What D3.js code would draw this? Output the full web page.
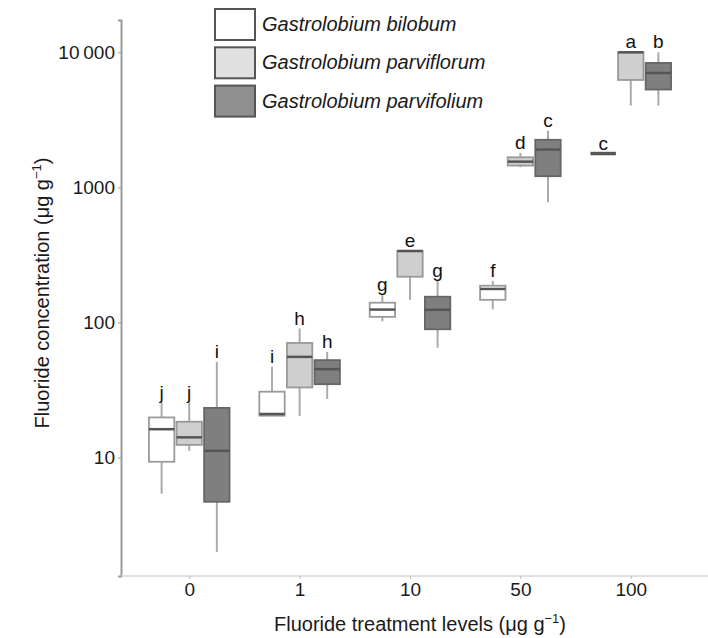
<html lang="en">
<head>
    <meta charset="UTF-8">
    <title>Fluoride concentration</title>
    <style>
        body { margin: 0; background: #fff; }
        text { font-family: "Liberation Sans", Arial, sans-serif; }
    </style>
</head>
<body>
    <script src="https://d3js.org/d3.v7.min.js"></script>
    <div id="my_dataviz"></div>
    <script>
        // Data
        var groups = ["0", "1", "10", "50", "100"]
        var species = ["Gastrolobium bilobum", "Gastrolobium parviflorum", "Gastrolobium parvifolium"]
        var yTicks = [10, 100, 1000, 10000]
        var yTickLabels = ["10", "100", "1000", "10\u2009000"]

        // one row per species, one value per treatment level
        var whiskerLow = [[5.4, 20.4, 102, 125, 1780], [11.2, 20.3, 147, 1410, 4030], [2.0, 27.1, 65, 778, 4030]]
        var q1 = [[9.3, 20.4, 110, 147, 1780], [12.4, 33.0, 218, 1450, 6240], [4.7, 34.9, 89, 1210, 5300]]
        var median = [[16.2, 21.0, 124.5, 177, 1780], [14.1, 55.6, 338, 1550, 10000], [11.2, 45.1, 124, 1905, 7030]]
        var q3 = [[19.8, 30.7, 140, 187, 1780], [18.4, 70.5, 338, 1670, 10000], [23.3, 52.6, 155, 2250, 8340]]
        var whiskerHigh = [[25.4, 47, 159, 203, 1780], [25.4, 90, 338, 1800, 10000], [51, 60.5, 203, 2630, 10000]]
        var letters = [["j", "i", "g", "f", "c"], ["j", "h", "e", "d", "a"], ["i", "h", "g", "c", "b"]]

        var width = 708
        var height = 638

        var svg = d3.select("#my_dataviz")
            .append("svg")
            .attr("width", width)
            .attr("height", height)

        // log scale, fitted so that 10 and 10000 land where they are in the figure
        var y = d3.scaleLog().domain([10, 10000]).range([457.5, 52.3])
        y.domain([y.invert(576), y.invert(20)]).range([576, 20])

        var x = d3.scalePoint().domain(groups).range([123, 697]).padding(0.6)
        var xSub = d3.scaleBand().domain(species).range([-41.4, 41.4])
        var boxW = xSub.bandwidth() * 0.92

        var fills = ["#ffffff", "#cfcfcf", "#7f7f7f"]
        var strokes = ["#9a9a9a", "#999999", "#666666"]
        var legendFills = ["#ffffff", "#e0e0e0", "#8f8f8f"]

        // build the box table
        var boxes = []
        species.forEach(function (s, i) {
            groups.forEach(function (g, j) {
                boxes.push({
                    group: g, sp: s, i: i,
                    lo: whiskerLow[i][j], q1: q1[i][j], med: median[i][j],
                    q3: q3[i][j], hi: whiskerHigh[i][j], letter: letters[i][j]
                })
            })
        })
        function cx(d) { return x(d.group) + xSub(d.sp) + xSub.bandwidth() / 2 }

        // Axes
        var yAxis = svg.append("g")
            .attr("transform", "translate(121,0)")
            .call(d3.axisLeft(y).tickValues(yTicks).tickSize(3).tickPadding(3)
                .tickFormat(function (d, i) { return yTickLabels[i] }))
        yAxis.select(".domain").attr("stroke", "#999").attr("stroke-width", 2)
        yAxis.selectAll(".tick line").attr("stroke", "#999")
        yAxis.selectAll(".tick text").style("font-size", "19px").attr("fill", "#1a1a1a")

        var xAxis = svg.append("g")
            .attr("transform", "translate(0,576)")
            .call(d3.axisBottom(x).tickSize(3).tickPadding(4).tickSizeOuter(0))
        xAxis.select(".domain").attr("stroke", "#d6d6d6").attr("stroke-width", 1.5)
            .attr("d", "M121,0H708")
        xAxis.selectAll(".tick line").attr("stroke", "#bbb")
        xAxis.selectAll(".tick text").style("font-size", "19px").attr("fill", "#1a1a1a")

        // axis titles
        svg.append("text")
            .attr("x", 420).attr("y", 631)
            .attr("text-anchor", "middle")
            .style("font-size", "20px").attr("fill", "#1a1a1a")
            .html("Fluoride treatment levels (μg g<tspan dy='-8' font-size='13'>−1</tspan><tspan dy='8'>)</tspan>")

        svg.append("text")
            .attr("transform", "translate(49,293) rotate(-90)")
            .attr("text-anchor", "middle")
            .style("font-size", "20px").attr("fill", "#1a1a1a")
            .html("Fluoride concentration (μg g<tspan dy='-8' font-size='13'>−1</tspan><tspan dy='8'>)</tspan>")

        // Boxplots
        var b = svg.append("g").selectAll("g")
            .data(boxes)
            .enter()
            .append("g")

        b.append("line")
            .attr("x1", cx).attr("x2", cx)
            .attr("y1", function (d) { return y(d.lo) })
            .attr("y2", function (d) { return y(d.hi) })
            .attr("stroke", "#aaaaaa")
            .attr("stroke-width", 2)

        b.append("rect")
            .attr("x", function (d) { return cx(d) - boxW / 2 })
            .attr("width", boxW)
            .attr("y", function (d) { return y(d.q3) })
            .attr("height", function (d) { return y(d.q1) - y(d.q3) })
            .attr("fill", function (d) { return fills[d.i] })
            .attr("stroke", function (d) { return strokes[d.i] })
            .attr("stroke-width", 1.8)

        b.append("line")
            .attr("x1", function (d) { return cx(d) - boxW / 2 })
            .attr("x2", function (d) { return cx(d) + boxW / 2 })
            .attr("y1", function (d) { return y(d.med) })
            .attr("y2", function (d) { return y(d.med) })
            .attr("stroke", "#555555")
            .attr("stroke-width", function (d) { return d.q1 == d.q3 ? 3.5 : 2.5 })

        // significance letters
        b.append("text")
            .attr("x", cx)
            .attr("y", function (d) { return y(d.hi) - 4 })
            .attr("text-anchor", "middle")
            .style("font-size", "19px")
            .attr("fill", "#111")
            .text(function (d) { return d.letter })

        // Legend
        var legend = svg.append("g").selectAll("g")
            .data(species)
            .enter()
            .append("g")
            .attr("transform", function (d, i) { return "translate(215," + (9 + i * 38.3) + ")" })

        legend.append("rect")
            .attr("width", 40).attr("height", 31)
            .attr("fill", function (d, i) { return legendFills[i] })
            .attr("stroke", "#555")
            .attr("stroke-width", 2)

        legend.append("text")
            .attr("x", 47).attr("y", 22)
            .style("font-size", "20px")
            .style("font-style", "italic")
            .attr("fill", "#1a1a1a")
            .text(function (d) { return d })
    </script>
</body>
</html>
